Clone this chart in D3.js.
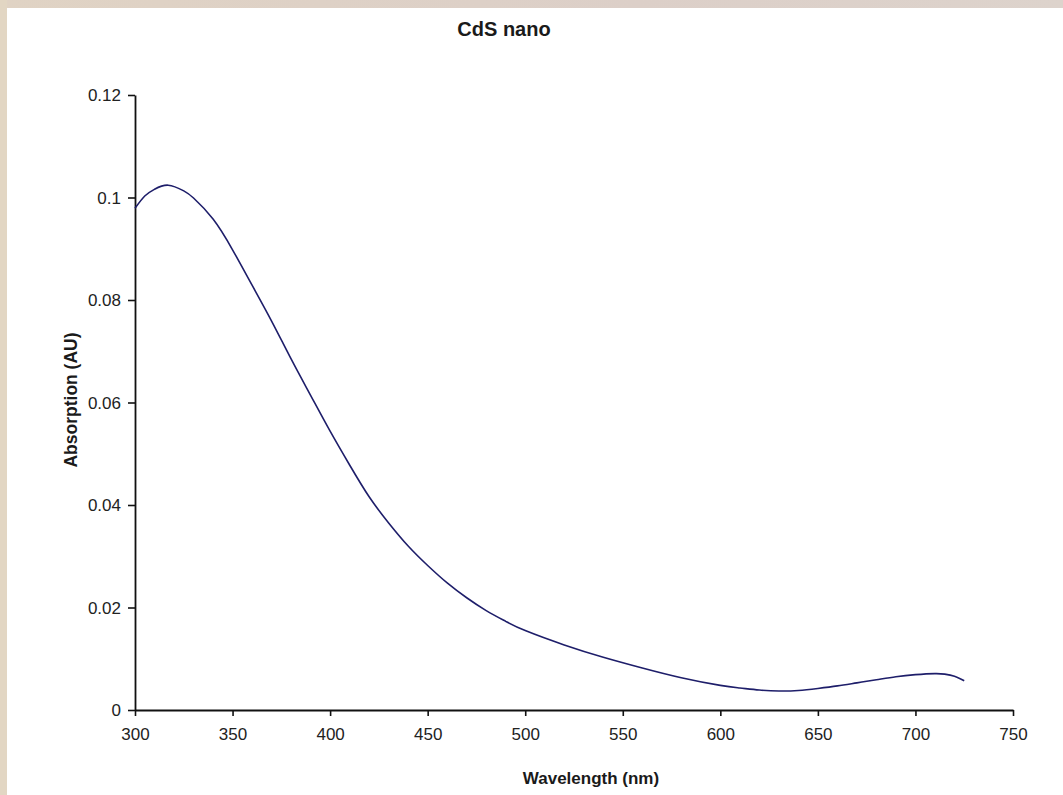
<!DOCTYPE html>
<html><head><meta charset="utf-8">
<script src="https://cdn.jsdelivr.net/npm/d3@7"></script>
<style>
html,body{margin:0;padding:0;background:#fff;}
svg{display:block;}
</style></head>
<body>
<svg id="chart" width="1063" height="795"></svg>
<script>
// Data
const wavelengths = [300,305,310,317,325,330,340,350,360,370,380,390,400,410,420,430,440,450,460,470,480,490,500,520,540,560,580,600,610,620,630,640,650,660,670,680,690,700,710,715,720,725];
const absorption  = [0.0979,0.1003,0.1016,0.1024,0.1013,0.0999,0.0958,0.0898,0.0829,0.0759,0.0685,0.0614,0.0544,0.0478,0.0416,0.0365,0.0320,0.0282,0.0248,0.0219,0.0194,0.0173,0.0155,0.0127,0.0103,0.0082,0.0063,0.0048,0.0043,0.0039,0.0037,0.0038,0.0042,0.0047,0.0053,0.0059,0.0065,0.0069,0.0071,0.0070,0.0066,0.0057];
const xTicks = [300,350,400,450,500,550,600,650,700,750];
const yTicks = [0,0.02,0.04,0.06,0.08,0.1,0.12];
const yTickLabels = ["0","0.02","0.04","0.06","0.08","0.1","0.12"];
const titleText = "CdS nano";
const xTitle = "Wavelength (nm)";
const yTitle = "Absorption (AU)";

const svg = d3.select("#chart");
// background frame
const defs = svg.append("defs");
const g1 = defs.append("linearGradient").attr("id","topg").attr("x1","0").attr("x2","1");
g1.append("stop").attr("offset","0").attr("stop-color","#e0d3c4");
g1.append("stop").attr("offset","0.6").attr("stop-color","#dccfc8");
g1.append("stop").attr("offset","1").attr("stop-color","#ddd3cc");
svg.append("rect").attr("x",0).attr("y",0).attr("width",1063).attr("height",8).attr("fill","url(#topg)");
svg.append("rect").attr("x",0).attr("y",0).attr("width",7).attr("height",795).attr("fill","#e2d6c3");

const x = d3.scaleLinear().domain([300,750]).range([135,1013]);
const y = d3.scaleLinear().domain([0,0.12]).range([710,95]);

const xAxis = svg.append("g").attr("transform","translate(0,710)")
  .call(d3.axisBottom(x).tickValues(xTicks).tickSizeInner(6).tickSizeOuter(0).tickPadding(12).tickFormat(d3.format("d")));
const yAxis = svg.append("g").attr("transform","translate(135,0)")
  .call(d3.axisLeft(y).tickValues(yTicks).tickSizeInner(7).tickSizeOuter(0).tickPadding(7).tickFormat((d,i)=>yTickLabels[i]));
[xAxis,yAxis].forEach(a=>{
  a.select(".domain").attr("stroke","#111").attr("stroke-width",1.8);
  a.selectAll(".tick line").attr("stroke","#111").attr("stroke-width",1.6);
  a.selectAll(".tick text").attr("font-family","'Liberation Sans', Arial, sans-serif").attr("font-size",17).attr("fill","#222");
});
yAxis.selectAll(".tick text").attr("dy","0.35em");

const line = d3.line().x((d,i)=>x(wavelengths[i])).y(d=>y(d)).curve(d3.curveNatural);
svg.append("path").datum(absorption).attr("d",line).attr("fill","none")
  .attr("stroke","#1e1e6a").attr("stroke-width",1.6);

svg.append("text").attr("x",504).attr("y",36).attr("text-anchor","middle")
  .attr("font-family","'Liberation Sans', Arial, sans-serif").attr("font-weight","bold").attr("font-size",20).attr("fill","#1a1a1a").text(titleText);
svg.append("text").attr("x",591).attr("y",784).attr("text-anchor","middle")
  .attr("font-family","'Liberation Sans', Arial, sans-serif").attr("font-weight","bold").attr("font-size",17).attr("fill","#1a1a1a").text(xTitle);
svg.append("text").attr("transform","translate(77,400) rotate(-90)").attr("text-anchor","middle")
  .attr("font-family","'Liberation Sans', Arial, sans-serif").attr("font-weight","bold").attr("font-size",17.5).attr("fill","#1a1a1a").text(yTitle);
</script>
</body></html>
